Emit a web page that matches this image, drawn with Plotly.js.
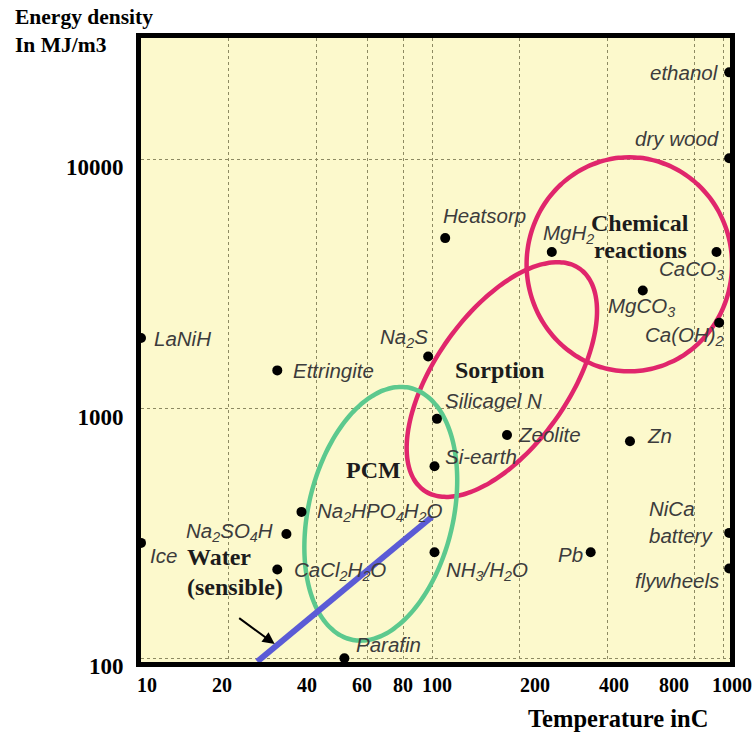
<!DOCTYPE html>
<html>
<head>
<meta charset="utf-8">
<script src="https://cdn.plot.ly/plotly-3.0.1.min.js"></script>
<style>
  html, body { margin: 0; padding: 0; background: #ffffff; }
  #chart { width: 756px; height: 733px; }
</style>
</head>
<body>
<div id="chart"></div>
<script>
// ---------- data ----------
const materials = ["ethanol", "dry wood", "CaCO<sub>3</sub>", "Ca(OH)<sub>2</sub>", "MgCO<sub>3</sub>",
  "MgH<sub>2</sub>", "Heatsorp", "Na<sub>2</sub>S", "Silicagel N", "Zeolite", "Si-earth", "Zn",
  "NH<sub>3</sub>/H<sub>2</sub>O", "Pb", "NiCa<br>battery", "flywheels", "LaNiH", "Ettringite",
  "Na<sub>2</sub>HPO<sub>4</sub>H<sub>2</sub>O", "Na<sub>2</sub>SO<sub>4</sub>H", "CaCl<sub>2</sub>H<sub>2</sub>O",
  "Ice", "Parafin"];
const temperatureC = [1050, 1050, 950, 970, 530, 258, 111, 97, 104, 181, 102, 479,
  102, 351, 1050, 1050, 10, 29.4, 35.6, 31.6, 29.4, 10, 50];
const energyDensity = [22300, 10100, 4250, 2210, 2980, 4250, 4830, 1620, 911, 785, 588, 741,
  266, 266, 318, 229, 1920, 1425, 386, 315, 227, 290, 100];

// sensible-heat water line (start / end)
const waterT = [25.1, 100];
const waterE = [97, 369];

// arrow pointing at the water line
const arrowT = 28.8;
const arrowE = 114;

// region labels
const regionLabels = ["Chemical<br>reactions", "Sorption", "PCM", "Water<br>(sensible)"];
const regionT = [519, 171, 63, 14.2];
const regionE = [4925, 1424, 566, 222];

// region ellipses in log10 space: center, two conjugate semi-axis vectors (decades)
const ellipseNames = ["Chemical reactions", "Sorption", "PCM"];
const ellipseCenterLogT = [2.678, 2.240, 1.824];
const ellipseCenterLogE = [3.579, 3.117, 2.579];
const ellipseAxisA = [[0.353, 0.0], [0.269, 0.443], [0.102, 0.504]];
const ellipseAxisB = [[0.0, 0.429], [-0.186, 0.158], [-0.242, 0.067]];

// axis ticks
const xTicks = [10, 20, 40, 60, 80, 100, 200, 400, 800, 1000];
const xTickLabels = ["10", "20", "40", "60", "80", "100", "200", "400", "800", "1000"];
const yTicks = [100, 1000, 10000];
const yTickLabels = ["100", "1000", "10000"];
const dividerT = 100;

// ---------- styling helpers ----------
const ellipseColors = ["#e0266c", "#e0266c", "#5cc98e"];
// label placement: [xanchor, xshift, yshift]
const labelPlacement = [
  ["right", -8, 0], ["right", -8, 20], ["right", 9, -18], ["right", 7, -13], ["center", -1, -17],
  ["left", -11, 18], ["left", -4, 23], ["right", 2, 18], ["left", 6, 18], ["left", 9, 0],
  ["left", 8, 10], ["left", 15, 6], ["left", 9, -19], ["right", -6, -2], ["right", -14, 11],
  ["right", -8, -12], ["left", 11, 0], ["left", 14, 0], ["left", 14, 0], ["right", -11, 2],
  ["left", 15, -2], ["left", 7, -13], ["left", 10, 14]
];
const regionLineGap = [27, 0, 0, 30];
const xTickShift = [6, -7, -9, -5, -1, 5, 15, 7, -21, 9];

const traces = [];

// ellipses
const nSeg = 120;
for (let k = 0; k < ellipseNames.length; k++) {
  const xs = [], ys = [];
  for (let i = 0; i <= nSeg; i++) {
    const t = 2 * Math.PI * i / nSeg;
    const lx = ellipseCenterLogT[k] + ellipseAxisA[k][0] * Math.cos(t) + ellipseAxisB[k][0] * Math.sin(t);
    const ly = ellipseCenterLogE[k] + ellipseAxisA[k][1] * Math.cos(t) + ellipseAxisB[k][1] * Math.sin(t);
    xs.push(Math.pow(10, lx));
    ys.push(Math.pow(10, ly));
  }
  traces.push({
    type: "scatter", mode: "lines", x: xs, y: ys, name: ellipseNames[k],
    line: { color: ellipseColors[k], width: 4.5, shape: "spline" },
    hoverinfo: "skip", showlegend: false, cliponaxis: false
  });
}

// water sensible line
traces.push({
  type: "scatter", mode: "lines", x: waterT, y: waterE, name: "Water (sensible)",
  line: { color: "#5b5bd6", width: 6 }, showlegend: false, cliponaxis: false
});

// material points
traces.push({
  type: "scatter", mode: "markers", x: temperatureC, y: energyDensity,
  text: materials, hoverinfo: "text", showlegend: false, cliponaxis: false,
  marker: { color: "#000000", size: 10 }
});

const annotations = [];
const labelFont = { family: "Liberation Sans, Arial, sans-serif", size: 20.5, color: "#3c3c3c", style: "italic" };
for (let i = 0; i < materials.length; i++) {
  const p = labelPlacement[i];
  annotations.push({
    x: Math.log10(temperatureC[i]), y: Math.log10(energyDensity[i]), xref: "x", yref: "y",
    text: materials[i], showarrow: false, xanchor: p[0], yanchor: "middle",
    xshift: p[1], yshift: p[2], font: labelFont, align: "left"
  });
}
const boldFont = { family: "Liberation Serif, Times New Roman, serif", size: 24, color: "#1c1c1c", weight: "bold" };
for (let i = 0; i < regionLabels.length; i++) {
  const lines = regionLabels[i].split("<br>");
  const gap = regionLineGap[i];
  lines.forEach(function (ln, j) {
    annotations.push({
      x: Math.log10(regionT[i]), y: Math.log10(regionE[i]), xref: "x", yref: "y",
      text: ln, showarrow: false,
      xanchor: i === 3 ? "left" : "center", yanchor: "middle",
      yshift: gap * ((lines.length - 1) / 2 - j),
      font: boldFont
    });
  });
}
// arrow
annotations.push({
  x: Math.log10(arrowT), y: Math.log10(arrowE), xref: "x", yref: "y",
  text: "", showarrow: true, arrowhead: 2, arrowsize: 1.2, arrowwidth: 2, arrowcolor: "#000000",
  ax: -37, ay: -27
});
// x tick labels
const tickFont = { family: "Liberation Serif, Times New Roman, serif", size: 20, color: "#000000", weight: "bold" };
for (let i = 0; i < xTicks.length; i++) {
  annotations.push({
    x: Math.log10(xTicks[i]), y: 0, xref: "x", yref: "paper",
    text: xTickLabels[i], showarrow: false, xanchor: "center", yanchor: "middle",
    xshift: xTickShift[i], yshift: -23, font: tickFont
  });
}
// axis titles
annotations.push({
  x: -0.217, y: 1.011, xref: "paper", yref: "paper", text: "Energy density<br>In MJ/m3",
  showarrow: false, xanchor: "left", yanchor: "middle", align: "left",
  font: { family: "Liberation Serif, Times New Roman, serif", size: 21.5, color: "#000000", weight: "bold" }
});
annotations.push({
  x: 0.81, y: -0.09, xref: "paper", yref: "paper", text: "Temperature inC",
  showarrow: false, xanchor: "center", yanchor: "middle",
  font: { family: "Liberation Serif, Times New Roman, serif", size: 24.5, color: "#000000", weight: "bold" }
});

const layout = {
  width: 756, height: 733,
  margin: { l: 141, r: 26, t: 38, b: 71 },
  paper_bgcolor: "#ffffff",
  plot_bgcolor: "#fcf9cc",
  showlegend: false,
  xaxis: {
    type: "log", range: [1, 3.024],
    tickvals: xTicks, ticktext: xTickLabels, showticklabels: false,
    ticks: "", showgrid: true, gridcolor: "#8d8a62", gridwidth: 1, griddash: "dot",
    showline: true, linecolor: "#000000", linewidth: 5, mirror: true,
    zeroline: false, layer: "below traces", fixedrange: true
  },
  yaxis: {
    type: "log", range: [1.985, 4.486],
    tickvals: yTicks, ticktext: yTickLabels,
    tickfont: { family: "Liberation Serif, Times New Roman, serif", size: 23, color: "#000000", weight: "bold" },
    ticks: "", showgrid: true, gridcolor: "#8d8a62", gridwidth: 1, griddash: "dot",
    showline: true, linecolor: "#000000", linewidth: 5, mirror: true,
    ticklabelshift: 8, ticklabelstandoff: 8,
    zeroline: false, layer: "below traces", fixedrange: true
  },
  shapes: [{
    type: "line", xref: "x", yref: "paper",
    x0: Math.log10(dividerT), x1: Math.log10(dividerT), y0: 0, y1: 1,
    line: { color: "#6d6748", width: 2 }, layer: "below"
  }],
  annotations: annotations
};

Plotly.newPlot("chart", traces, layout, { displayModeBar: false, staticPlot: true });
</script>
</body>
</html>
